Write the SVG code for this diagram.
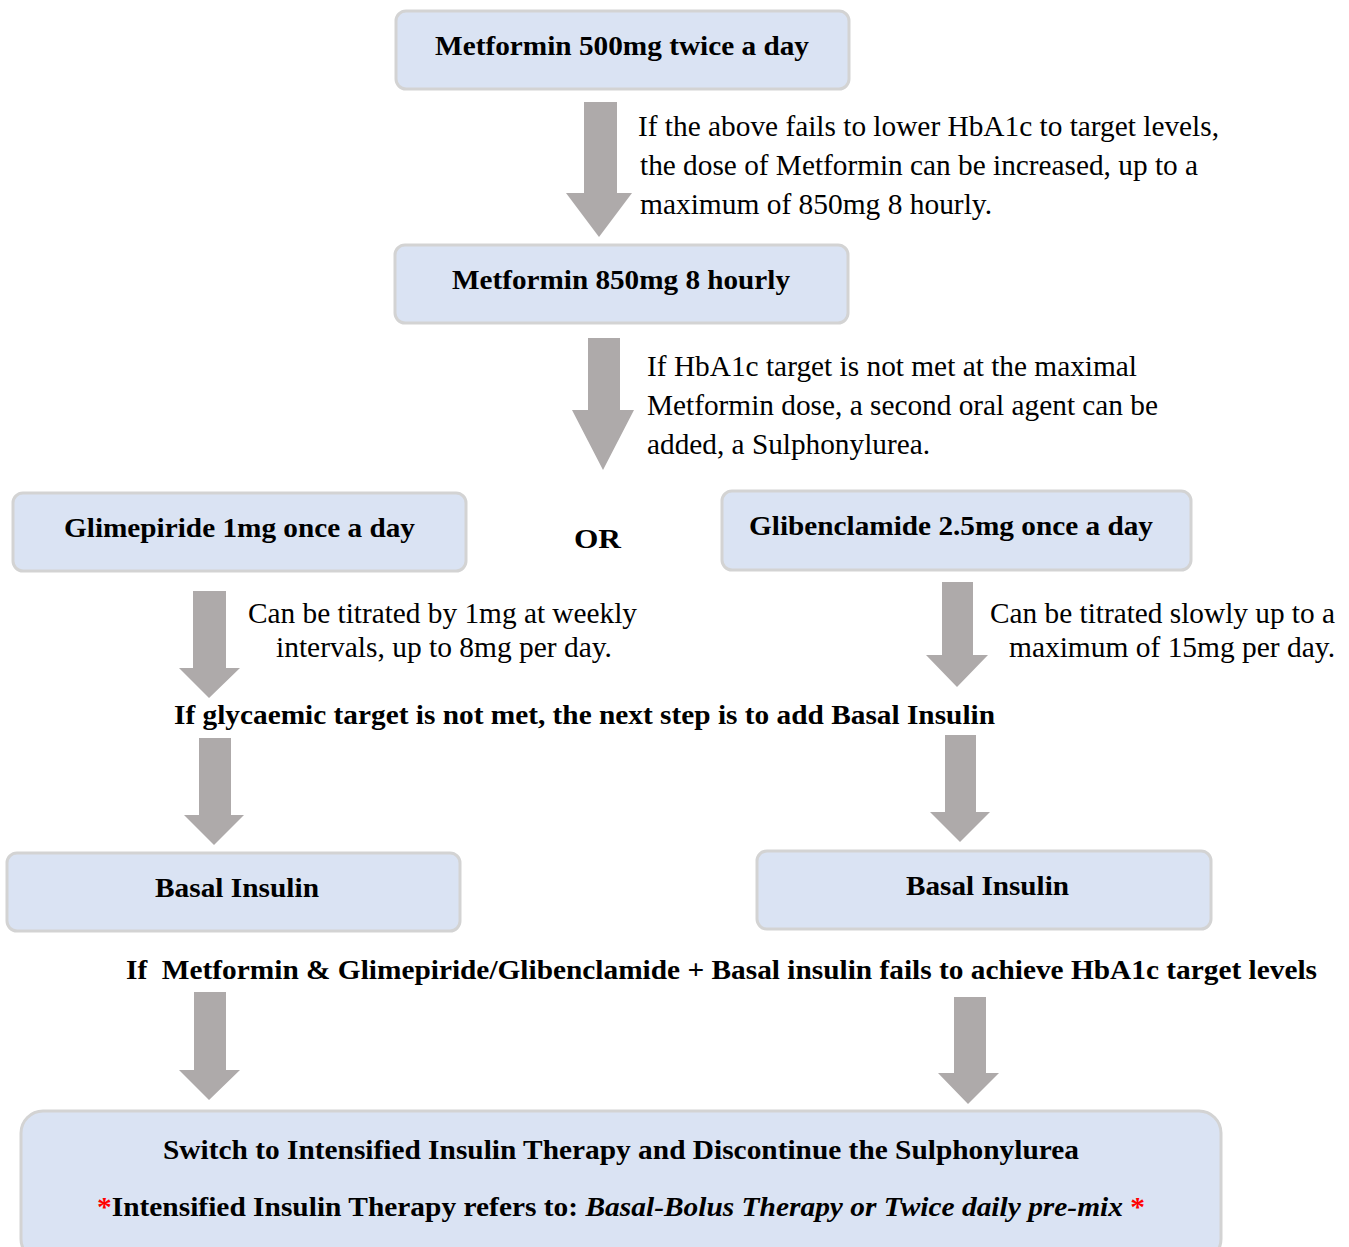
<svg xmlns="http://www.w3.org/2000/svg" width="1349" height="1247" viewBox="0 0 1349 1247">
<style>
.box{fill:#dae3f3;stroke:#d3d3d3;stroke-width:3}
.arr{fill:#aeaaaa}
text{font-family:"Liberation Serif","Times New Roman",serif;font-size:29px;fill:#000}
.b{font-weight:bold;font-size:28px}
.red{fill:#ff0000}
</style>
<rect width="1349" height="1247" fill="#fff"/>
<g id="connectors">
<path class="arr" d="M584,102H617V193H632L599,237L566,193H584Z"/>
<path class="arr" d="M588,338H620V410H634L603,470L572,410H588Z"/>
<path class="arr" d="M193,591H226V668H240L209,698L179,668H193Z"/>
<path class="arr" d="M942,582H973V655H988L957,687L926,655H942Z"/>
<path class="arr" d="M199,738H231V815H244L214,845L184,815H199Z"/>
<path class="arr" d="M945,735H976V812H990L960,842L930,812H945Z"/>
<path class="arr" d="M194,992H226V1070H240L209,1100L179,1070H194Z"/>
<path class="arr" d="M954,997H986V1073H999L968,1104L938,1073H954Z"/>
</g>
<g id="n1"><rect class="box" x="396" y="11" width="453" height="78" rx="10"/><text class="b" x="435" y="55" textLength="374" lengthAdjust="spacingAndGlyphs">Metformin 500mg twice a day</text></g>
<g id="t1">
<text x="638" y="136" textLength="581" lengthAdjust="spacingAndGlyphs">If the above fails to lower HbA1c to target levels,</text>
<text x="640" y="175" textLength="558" lengthAdjust="spacingAndGlyphs">the dose of Metformin can be increased, up to a</text>
<text x="640" y="214" textLength="352" lengthAdjust="spacingAndGlyphs">maximum of 850mg 8 hourly.</text></g>
<g id="n2"><rect class="box" x="395" y="245" width="453" height="78" rx="10"/><text class="b" x="452" y="289" textLength="338" lengthAdjust="spacingAndGlyphs">Metformin 850mg 8 hourly</text></g>
<g id="t2">
<text x="647" y="376" textLength="490" lengthAdjust="spacingAndGlyphs">If HbA1c target is not met at the maximal</text>
<text x="647" y="415" textLength="511" lengthAdjust="spacingAndGlyphs">Metformin dose, a second oral agent can be</text>
<text x="647" y="454" textLength="283" lengthAdjust="spacingAndGlyphs">added, a Sulphonylurea.</text></g>
<g id="n3"><rect class="box" x="13" y="493" width="453" height="78" rx="10"/><text class="b" x="64" y="537" textLength="351" lengthAdjust="spacingAndGlyphs">Glimepiride 1mg once a day</text></g>
<g id="or"><text class="b" x="574" y="548" textLength="47" lengthAdjust="spacingAndGlyphs">OR</text></g>
<g id="n4"><rect class="box" x="722" y="491" width="469" height="79" rx="10"/><text class="b" x="749" y="535" textLength="404" lengthAdjust="spacingAndGlyphs">Glibenclamide 2.5mg once a day</text></g>
<g id="t3">
<text x="248" y="623" textLength="389" lengthAdjust="spacingAndGlyphs">Can be titrated by 1mg at weekly</text>
<text x="276" y="657" textLength="336" lengthAdjust="spacingAndGlyphs">intervals, up to 8mg per day.</text></g>
<g id="t4">
<text x="990" y="623" textLength="345" lengthAdjust="spacingAndGlyphs">Can be titrated slowly up to a</text>
<text x="1009" y="657" textLength="326" lengthAdjust="spacingAndGlyphs">maximum of 15mg per day.</text></g>
<g id="t5"><text class="b" x="174" y="724" textLength="821" lengthAdjust="spacingAndGlyphs">If glycaemic target is not met, the next step is to add Basal Insulin</text></g>
<g id="n5"><rect class="box" x="7" y="853" width="453" height="78" rx="10"/><text class="b" x="155" y="897" textLength="164" lengthAdjust="spacingAndGlyphs">Basal Insulin</text></g>
<g id="n6"><rect class="box" x="757" y="851" width="454" height="78" rx="10"/><text class="b" x="906" y="895" textLength="163" lengthAdjust="spacingAndGlyphs">Basal Insulin</text></g>
<g id="t6"><text class="b" x="126" y="979" xml:space="preserve" textLength="1191" lengthAdjust="spacingAndGlyphs">If  Metformin &amp; Glimepiride/Glibenclamide + Basal insulin fails to achieve HbA1c target levels</text></g>
<g id="n7"><rect class="box" x="21" y="1111" width="1200" height="150" rx="22"/>
<text class="b" x="163" y="1159" textLength="916" lengthAdjust="spacingAndGlyphs">Switch to Intensified Insulin Therapy and Discontinue the Sulphonylurea</text>
<text class="b" x="97" y="1216" textLength="1048" lengthAdjust="spacingAndGlyphs"><tspan class="red">*</tspan>Intensified Insulin Therapy refers to: <tspan font-style="italic">Basal-Bolus Therapy or Twice daily pre-mix </tspan><tspan class="red">*</tspan></text></g>
</svg>
